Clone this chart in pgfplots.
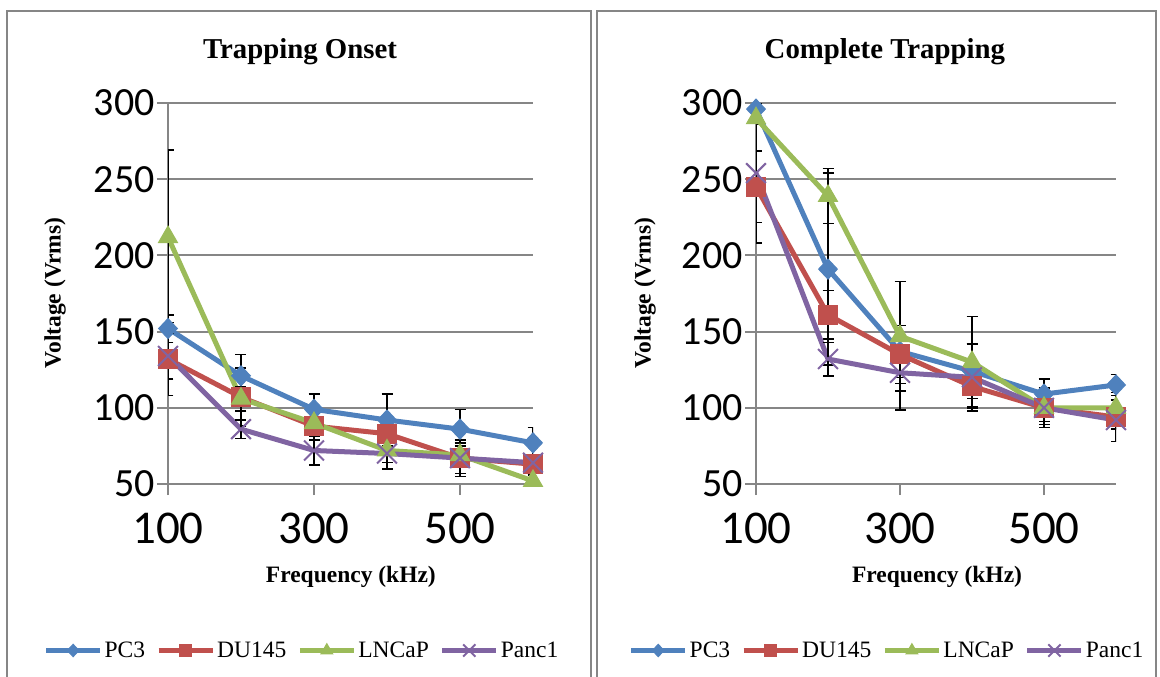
\documentclass[border=0pt]{standalone}
\usepackage{fontspec}
\setmainfont{Liberation Serif}
\newfontfamily\carlito{Carlito}
\usepackage{pgfplots}
\pgfplotsset{compat=1.18}
\definecolor{cPC}{HTML}{4F81BD}
\definecolor{cDU}{HTML}{C0504D}
\definecolor{cLN}{HTML}{9BBB59}
\definecolor{cPA}{HTML}{8064A2}
\definecolor{gridgray}{HTML}{868686}

\pgfplotstableread{
x y e
100 152 9
200 121 14
300 99 10
400 92 17
500 86 13
600 77 10
}\onsetPC
\pgfplotstableread{
x y e
100 132 24
200 107 19
300 88 9
400 83 8
500 67 10
600 63 5
}\onsetDU
\pgfplotstableread{
x y e
100 212 57
200 106 8
300 90 8
400 72 8
500 69 6
600 52 4
}\onsetLN
\pgfplotstableread{
x y e
100 134 15
200 86 6
300 72 9.5
400 70 10
500 67 12
600 64 4
}\onsetPA

\pgfplotstableread{
x y e
100 296 10
200 191 63
300 137 17
400 124 18
500 109 10
600 115 7
}\compPC
\pgfplotstableread{
x y e
100 245 23.5
200 161 16
300 135 19
400 114 13
500 100 13
600 94 16
}\compDU
\pgfplotstableread{
x y e
100 290 21.5
200 239 18
300 147 36
400 130 30
500 100 9
600 100 5
}\compLN
\pgfplotstableread{
x y e
100 254 46
200 132 11
300 123 24.5
400 120 22
500 100 11
600 92 6
}\compPA

\pgfplotsset{
 panel/.style={
  scale only axis, height=381pt,
  xmin=100, xmax=600, ymin=50, ymax=300,
  xtick={100,300,500}, ytick={50,100,150,200,250,300},
  axis lines*=left,
  axis line style={gridgray,line width=2pt},
  ymajorgrids, major grid style={gridgray,line width=2pt},
  tick align=outside, major tick length=11pt,
  tick style={gridgray,line width=2pt},
  yticklabel style={font=\carlito\fontsize{40}{40}\selectfont, inner sep=2pt},
  xticklabel style={font=\carlito\fontsize{47}{47}\selectfont, inner sep=2pt, yshift=-16pt},
  /pgf/number format/assume math mode=true,
  label style={font=\bfseries\fontsize{23.5}{24}\selectfont},
  title style={font=\bfseries\fontsize{28.8}{30}\selectfont},
  legend style={font=\fontsize{23.5}{24}\selectfont, draw=none, fill=none,
    legend columns=4, anchor=center,
    nodes={inner sep=2pt},
    /tikz/every even column/.append style={column sep=9pt}},
  legend image code/.code={\draw[mark repeat=2,mark phase=2,##1,/tikz/every mark/.append style={scale=0.62}] plot coordinates {(0pt,0pt) (27pt,0pt) (54pt,0pt)};},
  every axis plot/.append style={line width=5pt},
  error bars/y dir=both, error bars/y explicit,
  error bars/error bar style={black,line width=1.5pt},
  error bars/error mark options={black,rotate=90,mark size=5.5pt,line width=1.5pt},
 },
 sPC/.style={color=cPC, mark=diamond*, mark size=10pt, mark options={solid,xscale=1.25,line width=1pt}},
 sDU/.style={color=cDU, mark=square*, mark size=9.5pt, mark options={solid,line width=1pt}},
 sLN/.style={color=cLN, mark=triangle*, mark size=11pt, mark options={solid,line width=1pt}},
 sPA/.style={color=cPA, mark=x, mark size=14pt, mark options={solid,line width=2pt}},
}

\begin{document}
\begin{tikzpicture}
\useasboundingbox (0pt,0pt) rectangle (1160pt,-677pt);
\draw[gridgray,line width=2pt] (7pt,-700pt) -- (7pt,-11pt) -- (591pt,-11pt) -- (591pt,-700pt);
\draw[gridgray,line width=2pt] (597pt,-700pt) -- (597pt,-11pt) -- (1156pt,-11pt) -- (1156pt,-700pt);

\begin{axis}[panel, width=365pt, at={(168pt,-484pt)}, anchor=south west,
  title={Trapping Onset}, title style={at={(0.3616,1.118)}, anchor=center},
  xlabel={Frequency (kHz)}, xlabel style={at={(0.501,-0.244)}, anchor=center},
  ylabel={Voltage (Vrms)}, ylabel style={at={(-0.3096,0.501)}, anchor=center},
  legend style={at={(0.367,-0.437)}}]
\addplot[sPC] table[x=x,y=y,y error=e] {\onsetPC};
\addplot[sDU] table[x=x,y=y,y error=e] {\onsetDU};
\addplot[sLN] table[x=x,y=y,y error=e] {\onsetLN};
\addplot[sPA] table[x=x,y=y,y error=e] {\onsetPA};
\legend{PC3,DU145,LNCaP,Panc1}
\end{axis}

\begin{axis}[panel, width=360pt, at={(756pt,-484pt)}, anchor=south west,
  title={Complete Trapping}, title style={at={(0.358,1.118)}, anchor=center},
  xlabel={Frequency (kHz)}, xlabel style={at={(0.503,-0.244)}, anchor=center},
  ylabel={Voltage (Vrms)}, ylabel style={at={(-0.308,0.501)}, anchor=center},
  legend style={at={(0.364,-0.437)}}]
\addplot[sPC] table[x=x,y=y,y error=e] {\compPC};
\addplot[sDU] table[x=x,y=y,y error=e] {\compDU};
\addplot[sLN] table[x=x,y=y,y error=e] {\compLN};
\addplot[sPA] table[x=x,y=y,y error=e] {\compPA};
\legend{PC3,DU145,LNCaP,Panc1}
\end{axis}
\end{tikzpicture}
\end{document}
